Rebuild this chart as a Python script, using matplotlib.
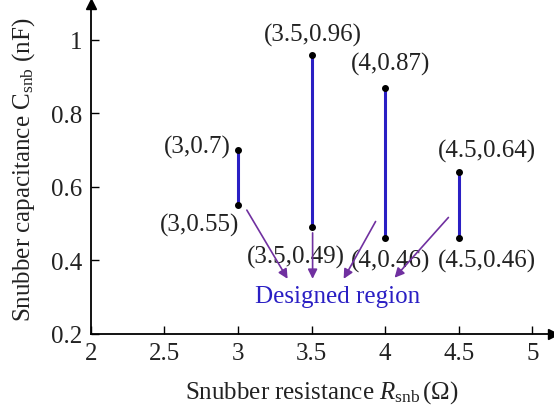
import matplotlib.pyplot as plt

plt.rcParams['font.family'] = ['Liberation Serif', 'DejaVu Serif']
plt.rcParams['mathtext.fontset'] = 'custom'
plt.rcParams['mathtext.rm'] = 'Liberation Serif'
plt.rcParams['mathtext.it'] = 'Liberation Serif:italic'

# snubber design points: resistance and capacitance range (low, high)
r_snb = [3, 3.5, 4, 4.5]
c_low = [0.55, 0.49, 0.46, 0.46]
c_high = [0.7, 0.96, 0.87, 0.64]

low_labels = ['(3,0.55)', '(3.5,0.49)', '(4,0.46)', '(4.5,0.46)']
high_labels = ['(3,0.7)', '(3.5,0.96)', '(4,0.87)', '(4.5,0.64)']
low_label_pos = [(2.74, 0.497), (3.39, 0.412), (4.04, 0.399), (4.69, 0.399)]
high_label_pos = [(2.726, 0.709), (3.507, 1.016), (4.037, 0.937), (4.69, 0.698)]

xticks = [2, 2.5, 3, 3.5, 4, 4.5, 5]
yticks = [0.2, 0.4, 0.6, 0.8, 1]

blue = '#2a1fc4'
purple = '#7030a0'
fs = 18

fig = plt.figure(figsize=(5.54, 4.10), dpi=100)
ax = fig.add_axes([0.164, 0.183, 0.834, 0.805])

for r, lo, hi in zip(r_snb, c_low, c_high):
    ax.plot([r, r], [lo, hi], color=blue, lw=2.2, zorder=2)
ax.plot(r_snb, c_low, 'o', color='black', ms=4, zorder=3)
ax.plot(r_snb, c_high, 'o', color='black', ms=4, zorder=3)

for txt, (x, y) in zip(low_labels + high_labels, low_label_pos + high_label_pos):
    ax.text(x, y, txt, ha='center', va='center', fontsize=fs, color='#222222')

# arrows pointing to the designed region
arrows = [((3.06, 0.537), (3.337, 0.35)),
          ((3.507, 0.475), (3.507, 0.35)),
          ((3.935, 0.506), (3.718, 0.35)),
          ((4.43, 0.517), (4.064, 0.353))]
for start, end in arrows:
    ax.annotate('', xy=end, xytext=start,
                arrowprops=dict(arrowstyle='-|>', color=purple, lw=1.2,
                                mutation_scale=14, shrinkA=0, shrinkB=0))
ax.text(3.68, 0.303, 'Designed region', ha='center', va='center',
        fontsize=fs, color=blue)

ax.set_xlim(2, 5.14)
ax.set_ylim(0.2, 1.098)
ax.set_xticks(xticks)
ax.set_xticklabels([f'{t:g}' for t in xticks])
ax.set_yticks(yticks)
ax.set_yticklabels([f'{t:g}' for t in yticks])
ax.tick_params(direction='in', length=6, width=1, labelsize=fs,
               labelcolor='#222222', pad=6)
ax.spines['top'].set_visible(False)
ax.spines['right'].set_visible(False)
ax.spines['left'].set_linewidth(1.3)
ax.spines['bottom'].set_linewidth(1.3)

# axis arrow heads
ax.plot(1, 0, '>', color='black', ms=7, transform=ax.transAxes, clip_on=False)
ax.plot(0, 1, '^', color='black', ms=7, transform=ax.transAxes, clip_on=False)

ax.set_xlabel(r'Snubber resistance $R_{\rm snb}\,$($\Omega$)', fontsize=fs,
              color='#222222', labelpad=10)
ax.set_ylabel(r'Snubber capacitance C$_{\rm snb}$ (nF)', fontsize=fs,
              color='#222222', labelpad=10)

fig.savefig('out.png', dpi=100)
